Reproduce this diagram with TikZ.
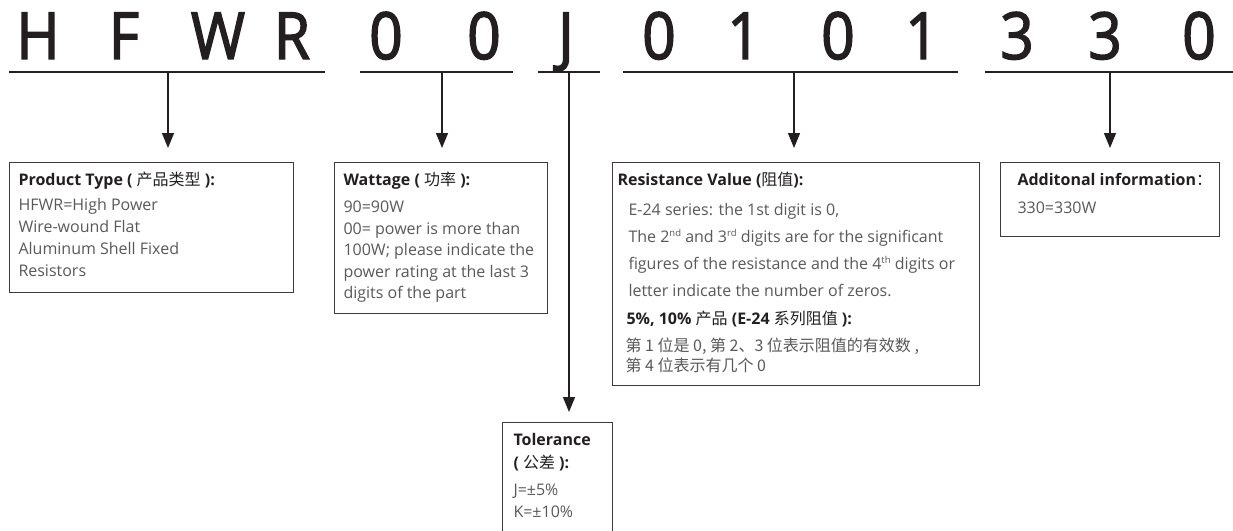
\documentclass[tikz,border=0pt]{standalone}
\usepackage{fontspec}
\setmainfont{Open Sans}
\newfontfamily\cjkf{Noto Sans CJK SC}
\newfontfamily\codef[FakeBold=2.2,FakeStretch=0.9]{Open Sans}
\usetikzlibrary{arrows.meta}
\definecolor{ink}{RGB}{35,31,32}
\definecolor{bodytxt}{RGB}{90,88,88}
\definecolor{frame}{RGB}{62,58,57}
\newcommand\zhs[1]{{\cjkf\mdseries #1}}
\newcommand\ttlx[1]{{\color{ink}\bfseries #1}}
\newcommand\supx[1]{\raisebox{6pt}{\fontsize{9.5}{9.5}\selectfont #1}}
\newcommand\boxtext[4]{\parbox[t][#2pt][t]{#1pt}{\raggedright\leftskip=#3pt\relax #4}}
\begin{document}
\begin{tikzpicture}[x=1pt,y=-1pt,
  codechar/.style={font=\codef\fontsize{65}{65}\selectfont, text=ink, anchor=base, inner sep=0pt},
  uline/.style={line width=2.2pt, draw=ink},
  conn/.style={line width=1.4pt, draw=ink, -{Triangle[length=15pt,width=12pt]}},
  infobox/.style={draw=frame, line width=1pt, anchor=north west, align=left, inner sep=0pt, text=bodytxt, font=\fontsize{16}{22}\selectfont}
]
\clip (0,0) rectangle (1233,530);
% code characters
\node[codechar] (c1) at (38,59) {H};
\node[codechar] (c2) at (124,59) {F};
\node[codechar] (c3) at (218,59) {W};
\node[codechar] (c4) at (292,59) {R};
\node[codechar] (c5) at (386,59) {0};
\node[codechar] (c6) at (484,59) {0};
\node[codechar] (c7) at (566,59) {J};
\node[codechar] (c8) at (659,59) {0};
\node[codechar] (c9) at (744,59) {1};
\node[codechar] (c10) at (838,59) {0};
\node[codechar] (c11) at (922,59) {1};
\node[codechar] (c12) at (1017,59) {3};
\node[codechar] (c13) at (1105,59) {3};
\node[codechar] (c14) at (1199,59) {0};
% underlines
\coordinate (l1a) at (9,72);   \coordinate (l1b) at (325,72);
\coordinate (l2a) at (360,72); \coordinate (l2b) at (513,72);
\coordinate (l3a) at (538,72); \coordinate (l3b) at (600,72);
\coordinate (l4a) at (623,72); \coordinate (l4b) at (958,72);
\coordinate (l5a) at (985,72); \coordinate (l5b) at (1233,72);
\draw[uline] (l1a) -- (l1b);
\draw[uline] (l2a) -- (l2b);
\draw[uline] (l3a) -- (l3b);
\draw[uline] (l4a) -- (l4b);
\draw[uline] (l5a) -- (l5b);
\coordinate (u1) at (168,72);
\coordinate (u2) at (442,72);
\coordinate (u3) at (569,72);
\coordinate (u4) at (794,72);
\coordinate (u5) at (1110,72);
% boxes
\node[infobox] (b1) at (9,162) {\boxtext{284}{130}{9}{%
\rule{0pt}{23pt}\ttlx{Product Type ( \zhs{产品类型} ):}\\[2.5pt]
HFWR=High Power\\
Wire-wound Flat\\
Aluminum Shell Fixed\\
Resistors}};
\node[infobox, font=\fontsize{16}{21.5}\selectfont] (b2) at (334,162) {\boxtext{213}{151}{9}{%
\rule{0pt}{23pt}\ttlx{Wattage ( \zhs{功率} ):}\\[5.5pt]
90=90W\\
00= power is more than\\
100W; please indicate the\\
power rating at the last 3\\
digits of the part}};
\node[infobox, font=\fontsize{16}{20}\selectfont] (b3) at (612,162) {\boxtext{367}{223}{5}{%
\rule{0pt}{23pt}\ttlx{Resistance Value (\zhs{阻值}):}\\[10pt]
\hspace*{11pt}E-24 series: the 1st digit is 0,\\[7pt]
\hspace*{11pt}The 2\supx{nd} and 3\supx{rd} digits are for the significant\\[6.5pt]
\hspace*{11pt}figures of the resistance and the 4\supx{th} digits or\\[7pt]
\hspace*{11pt}letter indicate the number of zeros.\\[8pt]
\hspace*{9pt}\ttlx{5\%, 10\% \zhs{产品} (E-24 \zhs{系列阻值} ):}\\[7pt]
\hspace*{8pt}\zhs{第 1 位是 0, 第 2、3 位表示阻值的有效数 ,}\\
\hspace*{8pt}\zhs{第 4 位表示有几个 0}}};
\node[infobox] (b4) at (1000,162) {\boxtext{219}{74}{17}{%
\rule{0pt}{23pt}\ttlx{Additonal information\zhs{：}}\\[6pt]
330=330W}};
\node[infobox] (b5) at (502,422) {\boxtext{110}{140}{11}{%
\rule{0pt}{23pt}\ttlx{Tolerance}\\[1pt]
\ttlx{( \zhs{公差} ):}\\[5pt]
J=±5\%\\
K=±10\%}};
% connectors
\draw[conn, shorten >=14pt] (u1) -- (u1 |- b1.north);
\draw[conn, shorten >=14pt] (u2) -- (u2 |- b2.north);
\draw[conn, shorten >=10pt] (u3) -- (u3 |- b5.north);
\draw[conn, shorten >=14pt] (u4) -- (u4 |- b3.north);
\draw[conn, shorten >=14pt] (u5) -- (u5 |- b4.north);
\end{tikzpicture}
\end{document}
